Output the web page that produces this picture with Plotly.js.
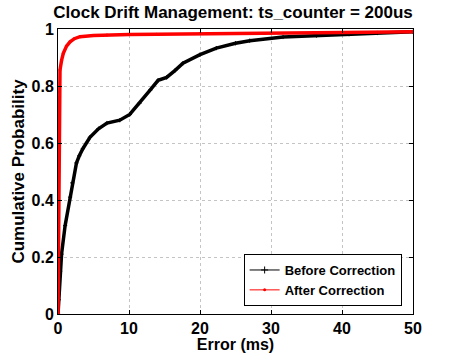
<!DOCTYPE html>
<html>
<head>
<meta charset="utf-8">
<script src="https://cdn.plot.ly/plotly-3.0.1.min.js"></script>
<style>
  html, body { margin: 0; padding: 0; background: #fff; }
  #chart { width: 457px; height: 353px; }
</style>
</head>
<body>
<div id="chart"></div>
<script>
// CDF of clock error
var beforeX = [0, 0.1, 0.3, 0.5, 1.0, 1.7, 2.0, 2.6, 3.0, 3.5, 4.5, 5.7, 6.9, 8.7, 10.1, 11.5, 13, 14.1, 15.3, 16.5, 17.6, 20, 22.3, 25, 27, 31.7, 36.4, 41, 45, 50];
var beforeY = [0, 0.05, 0.15, 0.21, 0.31, 0.41, 0.46, 0.53, 0.555, 0.58, 0.62, 0.65, 0.67, 0.68, 0.70, 0.74, 0.786, 0.82, 0.83, 0.855, 0.88, 0.91, 0.933, 0.95, 0.959, 0.972, 0.977, 0.982, 0.986, 0.99];

var afterX = [0, 0.1, 0.2, 0.28, 0.5, 0.75, 1.2, 1.7, 2.3, 3.1, 5, 6.9, 10, 13.9, 20, 30, 40, 50];
var afterY = [0, 0.5, 0.78, 0.856, 0.89, 0.915, 0.94, 0.955, 0.966, 0.973, 0.977, 0.979, 0.981, 0.982, 0.984, 0.986, 0.988, 0.99];

var xTicks = [0, 10, 20, 30, 40, 50];
var yTicks = [0, 0.2, 0.4, 0.6, 0.8, 1];
var yTickText = ["0", "0.2", "0.4", "0.6", "0.8", "1"];

var font = "Liberation Sans, Arial, sans-serif";

var beforeTrace = {
  x: beforeX, y: beforeY,
  type: "scatter", mode: "lines+markers",
  line: { color: "black", width: 3.5 },
  marker: { symbol: "cross-thin", size: 3, color: "black", line: { color: "black", width: 1 } },
  showlegend: false
};
var afterTrace = {
  x: afterX, y: afterY,
  type: "scatter", mode: "lines+markers",
  line: { color: "red", width: 3.5 },
  marker: { symbol: "circle", size: 3, color: "red" },
  showlegend: false
};
// thin entries just for the legend
var beforeLegend = {
  x: [null], y: [null], type: "scatter", mode: "lines+markers",
  name: "<b>Before Correction</b>",
  line: { color: "black", width: 1 },
  marker: { symbol: "cross-thin", size: 5, color: "black", line: { color: "black", width: 1 } }
};
var afterLegend = {
  x: [null], y: [null], type: "scatter", mode: "lines+markers",
  name: "<b>After Correction</b>",
  line: { color: "red", width: 1 },
  marker: { symbol: "circle", size: 3, color: "red" }
};

var layout = {
  width: 457, height: 353,
  margin: { l: 58, r: 44, t: 29, b: 39 },
  paper_bgcolor: "white", plot_bgcolor: "white",
  font: { family: font, color: "black" },
  title: {
    text: "<b>Clock Drift Management: ts_counter = 200us</b>",
    font: { size: 17 }, x: 0.51, xanchor: "center",
    yref: "container", y: 0.966, yanchor: "middle"
  },
  xaxis: {
    range: [0, 50], tickvals: xTicks,
    ticktext: xTicks.map(function (v) { return "<b>" + v + "</b>"; }),
    tickfont: { size: 16 }, ticks: "inside", ticklen: 4, tickcolor: "black",
    showline: true, linecolor: "black", linewidth: 1, mirror: "ticks",
    showgrid: true, gridcolor: "#c4c4c4", griddash: "dot", zeroline: false,
    title: { text: "<b>Error (ms)</b>", font: { size: 16 }, standoff: 3 }
  },
  yaxis: {
    range: [0, 1], tickvals: yTicks,
    ticktext: yTickText.map(function (v) { return "<b>" + v + "</b>"; }),
    tickfont: { size: 16 }, ticks: "inside", ticklen: 4, tickcolor: "black",
    showline: true, linecolor: "black", linewidth: 1, mirror: "ticks",
    showgrid: true, gridcolor: "#c4c4c4", griddash: "dot", zeroline: false,
    title: { text: "<b>Cumulative Probability</b>", font: { size: 17 }, standoff: 2 }
  },
  legend: {
    x: 0.968, xanchor: "right", y: 0.028, yanchor: "bottom",
    bgcolor: "white", bordercolor: "black", borderwidth: 1,
    font: { size: 13 }, tracegroupgap: 0
  }
};

Plotly.newPlot("chart", [beforeTrace, afterTrace, beforeLegend, afterLegend], layout, { displayModeBar: false, staticPlot: true });
</script>
</body>
</html>
